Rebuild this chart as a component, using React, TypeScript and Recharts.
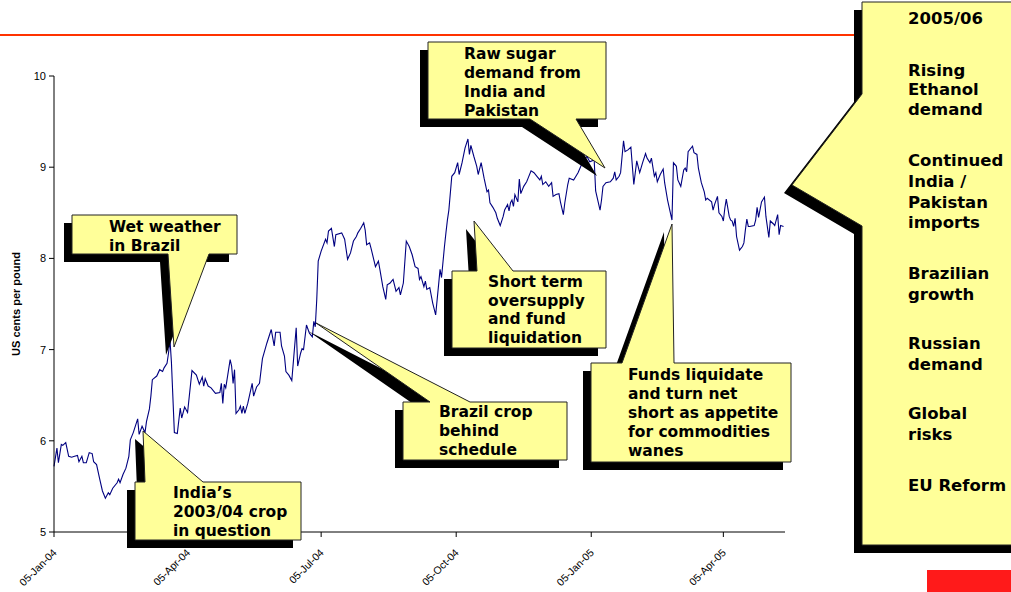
import React from 'react';
import { LineChart, Line, XAxis, YAxis } from 'recharts';

// Raw sugar nearby futures, US cents per pound. Day 0 = 5 Jan 2004.
const days = [
  0, 2, 3, 5, 6, 8, 10, 12, 14, 16, 17, 19, 20, 22, 24, 26, 27, 29, 31, 33, 35, 37, 38, 40, 43, 44, 45, 47, 49, 51,
  52, 54, 57, 58, 60, 62, 63, 65, 66, 67, 70, 72, 74, 75, 77, 78, 79, 80, 82, 84, 86, 87, 89, 91, 94, 97, 99, 101, 102, 103,
  105, 107, 110, 113, 114, 115, 116, 117, 120, 121, 122, 123, 124, 126, 127, 128, 129, 130, 132, 135, 136, 138, 140, 142, 145, 148, 150, 151, 154, 155,
  157, 158, 160, 162, 165, 166, 168, 169, 170, 172, 174, 176, 177, 178, 179, 180, 182, 185, 186, 187, 189, 191, 192, 196, 198, 200, 202, 204, 206, 207,
  209, 211, 212, 213, 215, 216, 219, 221, 222, 224, 226, 227, 229, 230, 231, 233, 235, 236, 238, 240, 242, 244, 246, 248, 249, 250, 252, 253, 254, 256,
  258, 260, 262, 263, 264, 266, 267, 268, 269, 271, 273, 275, 276, 278, 280, 282, 283, 284, 286, 288, 289, 291, 293, 295, 296, 297, 299, 301, 302, 304,
  306, 307, 309, 310, 311, 312, 313, 314, 316, 317, 318, 320, 322, 323, 325, 327, 329, 331, 332, 333, 335, 337, 339, 340, 342, 344, 345, 347, 348, 350,
  351, 354, 357, 360, 363, 365, 368, 369, 372, 373, 374, 376, 379, 381, 382, 383, 385, 386, 388, 389, 391, 393, 395, 397, 399, 401, 403, 404, 406, 407,
  409, 410, 411, 413, 415, 416, 418, 421, 422, 424, 425, 427, 429, 430, 431, 432, 435, 436, 438, 439, 441, 443, 444, 445, 448, 449, 450, 452, 453, 455,
  456, 457, 458, 460, 461, 462, 463, 464, 465, 467, 469, 470, 471, 472, 473, 474, 477, 478, 479, 480, 482, 484, 485, 487, 488, 490, 491, 493, 494, 495,
  497,
];

const prices = [
  5.72, 5.92, 5.76, 5.96, 5.95, 5.98, 5.83, 5.82, 5.83, 5.84, 5.77, 5.83, 5.76, 5.76, 5.87, 5.86, 5.77, 5.74, 5.59, 5.45, 5.37, 5.43, 5.41, 5.48, 5.54, 5.58, 5.54, 5.63, 5.7, 5.83,
  6.01, 6.09, 6.24, 6.07, 6.16, 6.09, 6.21, 6.35, 6.49, 6.67, 6.71, 6.78, 6.76, 6.8, 6.85, 6.96, 7.11, 6.86, 6.09, 6.08, 6.36, 6.25, 6.37, 6.31, 6.77, 6.72, 6.62, 6.7, 6.6, 6.68,
  6.6, 6.58, 6.52, 6.53, 6.63, 6.41, 6.62, 6.58, 6.89, 6.82, 6.63, 6.78, 6.3, 6.34, 6.38, 6.3, 6.38, 6.3, 6.41, 6.63, 6.49, 6.59, 6.63, 6.9, 7.07, 7.22, 7.04, 7.19, 7.19, 7.04,
  6.93, 6.76, 6.72, 6.66, 7.24, 6.82, 6.96, 7.01, 7.0, 7.27, 7.18, 7.14, 7.31, 7.25, 7.55, 7.97, 8.08, 8.21, 8.17, 8.3, 8.33, 8.13, 8.26, 8.28, 8.21, 7.99, 8.06, 8.19, 8.24, 8.28,
  8.33, 8.39, 8.31, 8.15, 8.17, 8.11, 7.91, 7.97, 7.88, 7.69, 7.55, 7.71, 7.73, 7.75, 7.77, 7.64, 7.68, 7.6, 7.73, 8.19, 8.13, 8.04, 7.91, 7.89, 7.77, 7.8, 7.69, 7.75, 7.66, 7.68,
  7.51, 7.38, 7.71, 7.88, 7.79, 8.13, 8.28, 8.42, 8.53, 8.9, 8.94, 9.05, 8.92, 9.05, 9.21, 9.31, 9.14, 9.24, 9.12, 9.01, 8.92, 9.05, 8.88, 8.73, 8.75, 8.61, 8.56, 8.5, 8.44, 8.36,
  8.46, 8.53, 8.59, 8.52, 8.61, 8.64, 8.57, 8.7, 8.62, 8.87, 8.71, 8.79, 8.84, 8.88, 8.96, 8.94, 8.9, 8.86, 8.9, 8.81, 8.84, 8.79, 8.83, 8.68, 8.7, 8.71, 8.62, 8.48, 8.61, 8.81,
  8.88, 8.86, 8.94, 9.05, 9.12, 9.06, 9.08, 8.74, 8.53, 8.64, 8.79, 8.83, 8.84, 8.88, 8.95, 8.86, 8.9, 8.94, 9.29, 9.17, 9.19, 9.22, 8.81, 9.07, 8.94, 9.05, 9.15, 9.1, 9.05, 9.1,
  8.9, 8.94, 8.84, 8.92, 8.98, 8.83, 8.64, 8.42, 9.05, 9.01, 8.86, 8.79, 8.97, 8.99, 8.95, 9.17, 9.23, 9.16, 9.14, 8.99, 8.83, 8.73, 8.64, 8.66, 8.62, 8.53, 8.59, 8.68, 8.5, 8.46,
  8.41, 8.55, 8.65, 8.46, 8.42, 8.41, 8.35, 8.44, 8.24, 8.09, 8.13, 8.17, 8.31, 8.43, 8.35, 8.35, 8.36, 8.42, 8.56, 8.45, 8.62, 8.67, 8.46, 8.23, 8.41, 8.38, 8.36, 8.48, 8.26, 8.36,
  8.35,
];

const dateTicks = [0, 91, 182, 274, 366, 456];
const dateLabels = ['05-Jan-04', '05-Apr-04', '05-Jul-04', '05-Oct-04', '05-Jan-05', '05-Apr-05'];
const priceTicks = [5, 6, 7, 8, 9, 10];

const data = days.map((day, i) => ({ day, price: prices[i] }));

const AXIS_FONT = "Arial, 'Liberation Sans', sans-serif";
const NOTE_FONT = "Verdana, 'DejaVu Sans', sans-serif";
const NOTE_FILL = '#ffff99';

type Side = 'top' | 'bottom' | 'left';

// rectangle with a wedge pointer, like an office "wedge callout"
function calloutPath(x: number, y: number, w: number, h: number, side: Side, a: number, b: number, tip: [number, number]) {
  const t = `${tip[0]},${tip[1]}`;
  if (side === 'top') {
    return `M${x},${y} L${a},${y} L${t} L${b},${y} L${x + w},${y} L${x + w},${y + h} L${x},${y + h} Z`;
  }
  if (side === 'bottom') {
    return `M${x},${y} L${x + w},${y} L${x + w},${y + h} L${b},${y + h} L${t} L${a},${y + h} L${x},${y + h} Z`;
  }
  return `M${x},${y} L${x + w},${y} L${x + w},${y + h} L${x},${y + h} L${x},${b} L${t} L${x},${a} Z`;
}

type NoteProps = {
  x: number; y: number; w: number; h: number;
  side: Side; a: number; b: number; tip: [number, number];
  tx: number; lines: [string, number][]; size?: number;
};

function Note({ x, y, w, h, side, a, b, tip, tx, lines, size = 15.5 }: NoteProps) {
  const d = calloutPath(x, y, w, h, side, a, b, tip);
  return (
    <g>
      <path d={d} fill="#000" transform="translate(-8,8)" />
      <path d={d} fill={NOTE_FILL} stroke="#222" strokeWidth={1} />
      {lines.map(([s, by]) => (
        <text key={s + by} x={tx} y={by} fontFamily={NOTE_FONT} fontWeight="bold" fontSize={size} fill="#000">
          {s}
        </text>
      ))}
    </g>
  );
}

function PriceAxisTitle({ viewBox }: any) {
  const cx = viewBox.x + 2;
  const cy = viewBox.y + viewBox.height / 2;
  return (
    <text x={cx} y={cy} transform={`rotate(-90 ${cx} ${cy})`} textAnchor="middle" dominantBaseline="central"
      fontFamily={AXIS_FONT} fontWeight="bold" fontSize={11} fill="#000">
      US cents per pound
    </text>
  );
}

export default function App() {
  return (
    <div style={{ position: 'absolute', left: 0, top: 0, width: 1011, height: 592, overflow: 'hidden', background: '#fff' }}>
      <div style={{ position: 'absolute', left: 0, top: 0 }}>
        <LineChart width={1011} height={592} data={data} margin={{ top: 76, right: 226, bottom: 0, left: 14 }}>
          <XAxis
            type="number"
            dataKey="day"
            domain={[0, 498]}
            ticks={dateTicks}
            interval={0}
            tickFormatter={(v: number) => dateLabels[dateTicks.indexOf(v)] ?? ''}
            angle={-45}
            textAnchor="end"
            height={60}
            tickSize={5}
            tickMargin={11}
            tick={{ fontSize: 10.5, fill: '#000', fontFamily: AXIS_FONT, dx: -2 }}
            axisLine={{ stroke: '#000' }}
            tickLine={{ stroke: '#000' }}
          />
          <YAxis
            domain={[5, 10]}
            ticks={priceTicks}
            interval={0}
            width={40}
            tickSize={5}
            tickMargin={3}
            tick={{ fontSize: 11, fill: '#000', fontFamily: AXIS_FONT }}
            axisLine={{ stroke: '#000' }}
            tickLine={{ stroke: '#000' }}
            label={<PriceAxisTitle />}
          />
          <Line type="linear" dataKey="price" stroke="#000080" strokeWidth={1.1} dot={false} isAnimationActive={false} />
        </LineChart>
      </div>
      <svg width={1011} height={592} style={{ position: 'absolute', left: 0, top: 0 }}>
        <line x1={0} y1={35} x2={870} y2={35} stroke="#ff3300" strokeWidth={2} />
        <rect x={927} y={570} width={84} height={22} fill="#ff1a1a" />
        <Note x={862} y={2} w={160} h={543} side="left" a={94} b={226} tip={[792, 185]} tx={908} size={16.5}
          lines={[['2005/06', 24], ['Rising', 76], ['Ethanol', 95], ['demand', 115], ['Continued', 166], ['India /', 187],
            ['Pakistan', 208], ['imports', 228], ['Brazilian', 279], ['growth', 300], ['Russian', 349], ['demand', 370],
            ['Global', 419], ['risks', 440], ['EU Reform', 491]]} />
        <Note x={72} y={215} w={165} h={39} side="bottom" a={168} b={209} tip={[174, 347]} tx={109}
          lines={[['Wet weather', 232], ['in Brazil', 251]]} />
        <Note x={135} y={482} w={166} h={58} side="top" a={145} b={203} tip={[143, 431]} tx={173}
          lines={[['India\u2019s', 498], ['2003/04 crop', 517], ['in question', 536]]} />
        <Note x={428} y={42} w={178} h={77} side="bottom" a={530} b={576} tip={[605, 168]} tx={464}
          lines={[['Raw sugar', 59], ['demand from', 78], ['India and', 97], ['Pakistan', 116]]} />
        <Note x={452} y={271} w={154} h={77} side="top" a={477} b={513} tip={[474, 221]} tx={488}
          lines={[['Short term', 287], ['oversupply', 306], ['and fund', 324], ['liquidation', 343]]} />
        <Note x={403} y={402} w={164} h={58} side="top" a={430} b={470} tip={[316, 323]} tx={439}
          lines={[['Brazil crop', 417], ['behind', 436], ['schedule', 455]]} />
        <Note x={591} y={363} w={200} h={99} side="top" a={622} b={674} tip={[672, 224]} tx={628}
          lines={[['Funds liquidate', 380], ['and turn net', 399], ['short as appetite', 418], ['for commodities', 437], ['wanes', 456]]} />
      </svg>
    </div>
  );
}
